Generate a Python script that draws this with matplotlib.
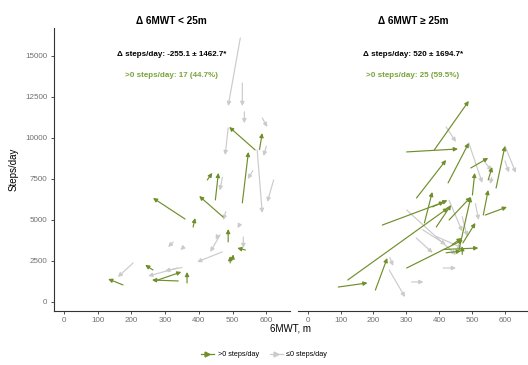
import matplotlib.pyplot as plt
from matplotlib.lines import Line2D

plt.rcParams['font.family'] = ['Liberation Sans', 'DejaVu Sans']

GREEN = '#6f8f2a'
GREEN_TXT = '#7aa33a'
GRAY = '#cbcbcb'

# left panel: change in 6MWT < 25 m  (start x, start y, end x, end y)
left_up_x0 = [567, 529, 425, 449, 359, 472, 383, 487, 538, 493, 264, 339, 270, 365, 175, 580, 500]
left_up_y0 = [9270, 6040, 7440, 6220, 5060, 5180, 4570, 3660, 3170, 2380, 1950, 1280, 1280, 1160, 1040, 9300, 2600]
left_up_x1 = [490, 547, 440, 458, 264, 401, 389, 487, 514, 493, 241, 261, 348, 365, 131, 588, 502]
left_up_y1 = [10670, 9150, 7870, 7870, 6340, 6460, 5120, 4450, 3290, 2800, 2260, 1340, 1830, 1830, 1400, 10300, 2900]

left_dn_x0 = [523, 529, 535, 487, 588, 573, 622, 463, 324, 350, 532, 469, 336, 205, 480, 520, 560, 470, 600, 455, 350]
left_dn_y0 = [16100, 13350, 11600, 10610, 11220, 9270, 7440, 4090, 3660, 3260, 3960, 3050, 2070, 2380, 5500, 4700, 8000, 7600, 9500, 4000, 2100]
left_dn_x1 = [487, 529, 535, 478, 603, 588, 603, 434, 309, 345, 532, 395, 250, 160, 472, 515, 545, 462, 592, 450, 300]
left_dn_y1 = [11950, 11950, 10900, 8960, 10670, 5430, 6100, 3050, 3350, 3170, 3290, 2440, 1580, 1520, 5000, 4500, 7500, 6800, 8900, 3800, 1900]

# right panel: change in 6MWT >= 25 m
right_up_x0 = [385, 301, 427, 496, 331, 573, 549, 501, 227, 355, 391, 430, 122, 206, 93, 301, 412, 421, 472, 460, 534, 540, 440, 380, 470]
right_up_y0 = [9270, 9150, 7260, 8170, 6340, 6950, 7440, 6520, 4690, 4820, 4570, 5000, 1340, 730, 910, 2070, 3200, 3000, 3600, 3170, 5300, 5300, 3500, 5800, 2900]
right_up_x1 = [490, 457, 490, 549, 421, 600, 561, 508, 415, 379, 436, 496, 427, 242, 182, 472, 519, 466, 510, 496, 549, 606, 468, 425, 470]
right_up_y1 = [12260, 9330, 9700, 8780, 8660, 9510, 8230, 7870, 6100, 6710, 5910, 6400, 5730, 2680, 1160, 3780, 3290, 3100, 4820, 6400, 6830, 5790, 3900, 6200, 3400]

right_dn_x0 = [421, 490, 600, 301, 248, 316, 412, 350, 390, 560, 470, 430, 330, 510, 600, 540, 250]
right_dn_y0 = [10670, 9700, 9510, 5610, 1950, 1220, 2070, 4400, 4000, 7600, 5200, 6200, 3900, 6000, 8600, 8500, 2700]
right_dn_x1 = [451, 531, 633, 451, 296, 352, 451, 420, 470, 555, 485, 470, 380, 520, 612, 560, 260]
right_dn_y1 = [9760, 7260, 7870, 2870, 300, 1220, 2070, 3500, 3300, 7200, 4000, 4300, 3000, 5000, 7900, 8000, 2200]

titles = ['\u0394 6MWT < 25m', '\u0394 6MWT \u2265 25m']
mean_txt = ['\u0394 steps/day: -255.1 \u00b1 1462.7*', '\u0394 steps/day: 520 \u00b1 1694.7*']
pos_txt = ['>0 steps/day: 17 (44.7%)', '>0 steps/day: 25 (59.5%)']


def draw_arrows(ax, x0, y0, x1, y1, color, z):
    for a, b, c, d in zip(x0, y0, x1, y1):
        ax.annotate('', xy=(c, d), xytext=(a, b),
                    arrowprops=dict(arrowstyle='-|>', color=color, lw=0.85,
                                    mutation_scale=6, shrinkA=0, shrinkB=0),
                    zorder=z)


fig = plt.figure(figsize=(5.28, 3.65), dpi=100)
ax1 = fig.add_axes([0.102, 0.148, 0.447, 0.775])
ax2 = fig.add_axes([0.564, 0.148, 0.436, 0.775])

panels = [
    (ax1, (left_up_x0, left_up_y0, left_up_x1, left_up_y1), (left_dn_x0, left_dn_y0, left_dn_x1, left_dn_y1)),
    (ax2, (right_up_x0, right_up_y0, right_up_x1, right_up_y1), (right_dn_x0, right_dn_y0, right_dn_x1, right_dn_y1)),
]

for i, (ax, up, dn) in enumerate(panels):
    draw_arrows(ax, *dn, GRAY, 2)
    draw_arrows(ax, *up, GREEN, 3)
    ax.set_xlim(-30, 670)
    ax.set_ylim(-550, 16700)
    ax.set_xticks(range(0, 700, 100))
    ax.set_yticks(range(0, 17500, 2500))
    ax.tick_params(labelsize=5.8, labelcolor='#707070', color='#333333',
                   length=2.5, width=0.6, pad=2)
    for s in ['top', 'right']:
        ax.spines[s].set_visible(False)
    ax.spines['bottom'].set_color('#333333')
    ax.spines['left'].set_color('#333333')
    ax.spines['bottom'].set_linewidth(0.8)
    ax.spines['left'].set_linewidth(0.8)
    ax.set_title(titles[i], fontsize=7.2, fontweight='bold', pad=3)
    ax.text(0.5, 0.905, mean_txt[i], transform=ax.transAxes, ha='center',
            va='center', fontsize=5.8, fontweight='bold', color='black')
    ax.text(0.5, 0.834, pos_txt[i], transform=ax.transAxes, ha='center',
            va='center', fontsize=5.8, fontweight='bold', color=GREEN_TXT)

ax2.spines['left'].set_visible(False)
ax2.tick_params(axis='y', left=False, labelleft=False)

ax1.set_ylabel('Steps/day', fontsize=7, labelpad=5)
fig.text(0.55, 0.1, '6MWT, m', ha='center', va='center', fontsize=7)

handles = [
    Line2D([0], [0], color=GREEN, lw=0.9, marker='>', markersize=3.5),
    Line2D([0], [0], color=GRAY, lw=0.9, marker='>', markersize=3.5),
]
fig.legend(handles, ['>0 steps/day', '\u22640 steps/day'], loc='center',
           bbox_to_anchor=(0.5, 0.028), ncol=2, frameon=False, fontsize=5.2,
           handlelength=1.8, columnspacing=1.5, handletextpad=0.5)

plt.savefig('out.png', dpi=100)
